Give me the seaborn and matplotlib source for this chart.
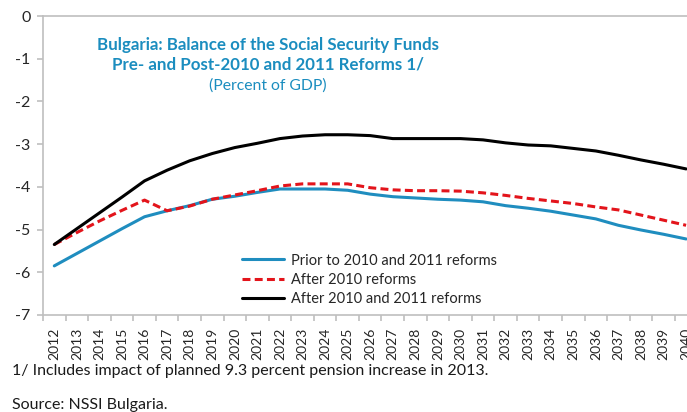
# Bulgaria - balance de los fondos de seguridad social
# lineas: antes y despues de las reformas 2010 y 2011

import pandas as pd
import matplotlib.pyplot as plt
import seaborn as sns

# datos (porcentaje del PIB)
anios = list(range(2012, 2041))

previo_reformas = [-5.85, -5.56, -5.27, -4.98, -4.70, -4.56, -4.44, -4.29, -4.22, -4.13,
                   -4.05, -4.05, -4.05, -4.08, -4.17, -4.23, -4.26, -4.29, -4.31, -4.35,
                   -4.44, -4.50, -4.57, -4.66, -4.75, -4.90, -5.01, -5.11, -5.22]

despues_2010 = [-5.35, -5.07, -4.80, -4.55, -4.31, -4.56, -4.45, -4.29, -4.19, -4.09,
                -3.98, -3.93, -3.93, -3.93, -4.02, -4.07, -4.09, -4.09, -4.10, -4.14,
                -4.20, -4.27, -4.33, -4.39, -4.47, -4.54, -4.66, -4.78, -4.90]

despues_2010_2011 = [-5.35, -4.98, -4.61, -4.24, -3.86, -3.61, -3.39, -3.22, -3.08, -2.98,
                     -2.87, -2.81, -2.78, -2.78, -2.80, -2.87, -2.87, -2.87, -2.87, -2.90,
                     -2.97, -3.02, -3.04, -3.10, -3.16, -3.26, -3.37, -3.47, -3.58]

nombres = ["Prior to 2010 and 2011 reforms", "After 2010 reforms",
           "After 2010 and 2011 reforms"]
colores = ["#1f8dbf", "#e3141b", "#000000"]

df = pd.DataFrame({"anio": anios,
                   nombres[0]: previo_reformas,
                   nombres[1]: despues_2010,
                   nombres[2]: despues_2010_2011})
df_largo = df.melt(id_vars="anio", var_name="serie", value_name="balance")

sns.set_style("white")
plt.rcParams["font.family"] = ["Lato", "DejaVu Sans"]

fig = plt.figure(figsize=(6.87, 4.12), dpi=100)
ax = fig.add_axes([43 / 687, 1 - 315 / 412, 1 - 43 / 687, (315 - 16) / 412])

sns.lineplot(data=df_largo, x="anio", y="balance", hue="serie", style="serie",
             hue_order=nombres, style_order=nombres,
             palette=dict(zip(nombres, colores)),
             dashes={nombres[0]: "", nombres[1]: (2.6, 1.4), nombres[2]: ""},
             linewidth=2.2, ax=ax)

ax.set_xlim(2011.5, 2040.04)
ax.set_ylim(-7, 0)
ax.set_xlabel("")
ax.set_ylabel("")

# ejes estilo excel
gris = "#bfbfbf"
for lado in ["left", "bottom", "top"]:
    ax.spines[lado].set_color(gris)
    ax.spines[lado].set_linewidth(1.2)
ax.spines["right"].set_visible(False)

ax.set_yticks(range(-7, 1))
ax.set_yticklabels([str(v) for v in range(-7, 1)], fontsize=11.5, color="#262626")
ax.tick_params(axis="y", length=4, color=gris, width=1.2, pad=5, left=True)

ax.set_xticks(anios)
ax.set_xticklabels([str(a) for a in anios], rotation=90, fontsize=10, color="#262626")
ax.set_xticks([a + 0.5 for a in anios[:-1]] + [2011.5], minor=True)
ax.tick_params(axis="x", which="major", length=0, pad=9, bottom=True)
ax.tick_params(axis="x", which="minor", length=4, color=gris, width=1.2, bottom=True)

# leyenda sin marco
leg = ax.legend(loc="upper left", bbox_to_anchor=(0.30, 0.225), frameon=False,
                fontsize=10.5, handlelength=2.9, handletextpad=0.45,
                labelspacing=0.35, borderaxespad=0)
for linea in leg.get_lines():
    linea.set_linewidth(2.2)

# titulo dentro de la grafica
azul = "#1b8dbf"
fig.text(268 / 687, 1 - 45 / 412, "Bulgaria: Balance of the Social Security Funds",
         ha="center", va="center", fontsize=12.2, fontweight="bold", color=azul)
fig.text(268 / 687, 1 - 65 / 412, "Pre- and Post-2010 and 2011 Reforms 1/",
         ha="center", va="center", fontsize=12.2, fontweight="bold", color=azul)
fig.text(268 / 687, 1 - 86 / 412, "(Percent of GDP)",
         ha="center", va="center", fontsize=11.3, color=azul)

# notas al pie
fig.text(12 / 687, 1 - 371 / 412,
         "1/ Includes impact of planned 9.3 percent pension increase in 2013.",
         ha="left", va="center", fontsize=11.5, color="#1a1a1a")
fig.text(12 / 687, 1 - 405 / 412, "Source: NSSI Bulgaria.",
         ha="left", va="center", fontsize=11.5, color="#1a1a1a")

fig.savefig("out.png", dpi=100)
